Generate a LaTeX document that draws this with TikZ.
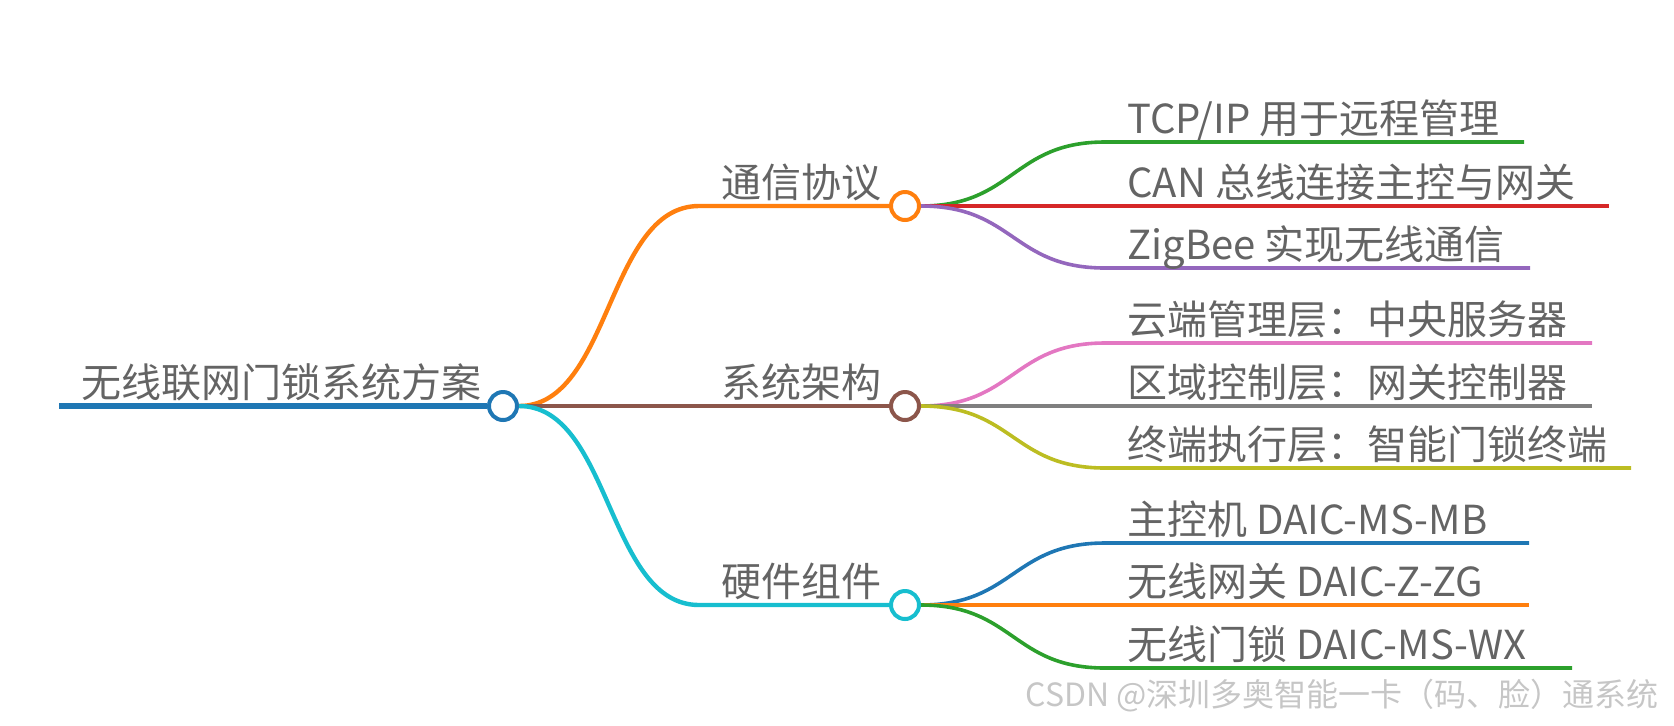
\documentclass[tikz,border=0pt]{standalone}
\usepackage{fontspec}
\setmainfont{Noto Sans CJK SC}
\definecolor{txt}{RGB}{100,100,100}
\definecolor{tblue}{RGB}{31,119,180}
\definecolor{torange}{RGB}{255,127,14}
\definecolor{tgreen}{RGB}{44,160,44}
\definecolor{tred}{RGB}{214,39,40}
\definecolor{tpurple}{RGB}{148,103,189}
\definecolor{tbrown}{RGB}{140,86,75}
\definecolor{tpink}{RGB}{227,119,194}
\definecolor{tgray}{RGB}{127,127,127}
\definecolor{tolive}{RGB}{188,189,34}
\definecolor{tcyan}{RGB}{23,190,207}
\begin{document}
\begin{tikzpicture}[x=0.5pt,y=-0.5pt,
    lbl/.style={anchor=base west, inner sep=0pt, text=txt, font=\fontsize{20}{24}\selectfont},
    hub/.style={circle, draw=#1, fill=white, line width=2pt, minimum size=14pt, inner sep=0pt},
    main/.style={draw=#1, line width=2.2pt},
    leaf/.style={draw=#1, line width=1.8pt}]
    \useasboundingbox (0,0) rectangle (1674,725);

    % root and its three hubs
    \node[hub=tblue] (root) at (503,406) {};
    \node[hub=torange] (comm) at (905,206) {};
    \node[hub=tbrown] (arch) at (905,406) {};
    \node[hub=tcyan] (hw) at (905,605) {};
    \coordinate (rootstart) at (59,406);
    \coordinate (comm0) at (699,206);
    \coordinate (hw0) at (699,605);

    \draw[main=tblue, line width=2.6pt] (rootstart) -- (root);
    \draw[main=torange] (root.east) .. controls +(92,0) and +(-92,0) .. (comm0) -- (comm);
    \draw[main=tbrown] (root) -- (arch);
    \draw[main=tcyan] (root.east) .. controls +(92,0) and +(-92,0) .. (hw0) -- (hw);

    \node[lbl] (roottxt) at (81,397) {无线联网门锁系统方案};
    \node[lbl] (commtxt) at (721,197) {通信协议};
    \node[lbl] (archtxt) at (721,397) {系统架构};
    \node[lbl] (hwtxt) at (721,596) {硬件组件};

    % leaves
    \foreach \hb/\ly/\ex/\col/\txt [count=\i] in {
        comm/142/1524/tgreen/{TCP/IP 用于远程管理},
        comm/206/1609/tred/{CAN 总线连接主控与网关},
        comm/268/1530/tpurple/{ZigBee 实现无线通信},
        arch/343/1592/tpink/{云端管理层：中央服务器},
        arch/406/1592/tgray/{区域控制层：网关控制器},
        arch/468/1631/tolive/{终端执行层：智能门锁终端},
        hw/543/1529/tblue/{主控机 DAIC-MS-MB},
        hw/605/1529/torange/{无线网关 DAIC-Z-ZG},
        hw/668/1572/tgreen/{无线门锁 DAIC-MS-WX}}{
        \coordinate (bend\i) at (1105,\ly);
        \coordinate (tip\i) at (\ex,\ly);
        \draw[leaf=\col] (\hb.east) .. controls +(93,0) and +(-93,0) .. (bend\i) -- (tip\i);
        \node[lbl] (leaf\i) at (1127,\ly-9) {\txt};
    }

    \node[anchor=west, inner sep=0pt, text=gray!45, font=\fontsize{16}{18}\selectfont] (mark) at (1025,696) {CSDN @深圳多奥智能一卡（码、脸）通系统};
\end{tikzpicture}
\end{document}
